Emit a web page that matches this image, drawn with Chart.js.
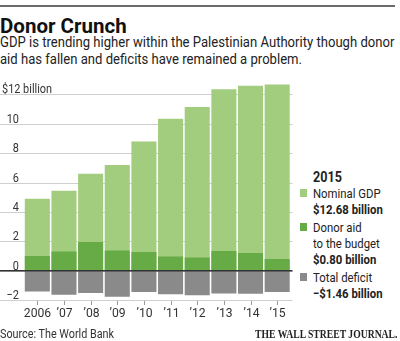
<!DOCTYPE html>
<html>
<head>
<meta charset="utf-8">
<script src="https://cdn.jsdelivr.net/npm/chart.js@4"></script>
<style>
  html, body { margin: 0; padding: 0; background: #fff; }
  body { width: 400px; height: 341px; position: relative; overflow: hidden;
         font-family: "Roboto", "Liberation Sans", sans-serif; color: #222; }
  .rule { position: absolute; left: 0; top: 5px; width: 395px; height: 2px; background: #6b6b6b; }
  .narrow { transform-origin: 0 0; white-space: nowrap; }
  h1 { position: absolute; left: 0; top: 14px; margin: 0; font-size: 20.5px; font-weight: bold; color: #111; white-space: nowrap; }
  .sub { position: absolute; left: 0; top: 34px; margin: 0; font-size: 14px; line-height: 16.5px; color: #222; transform: scaleX(0.935); }
  #wrap { position: absolute; left: 0; top: 0; width: 300px; height: 341px; }
  .legend { position: absolute; left: 300px; top: 169px; width: 120px; font-size: 13.5px; line-height: 16px; color: #222; }
  .legend .yr { font-weight: bold; font-size: 15px; margin-left: 13px; transform: scaleX(0.84); }
  .legend .item { position: relative; padding-left: 13px; margin-bottom: 2px; }
  .legend .txt { transform: scaleX(0.84); }
  .legend .sw { position: absolute; left: 0; top: 4px; width: 7px; height: 8px; }
  .src { position: absolute; left: 0; top: 327px; font-size: 12px; color: #333; transform: scaleX(0.9); }
  .wsj { position: absolute; left: 255px; top: 328px; font-family: "Liberation Serif", "DejaVu Serif", serif;
         font-weight: bold; font-size: 11.5px; color: #222; transform: scaleX(0.84); }
</style>
</head>
<body>
<div class="rule"></div>
<h1>Donor Crunch</h1>
<p class="sub narrow">GDP is trending higher within the Palestinian Authority though donor<br>aid has fallen and deficits have remained a problem.</p>
<div id="wrap"><canvas id="c"></canvas></div>
<div class="legend">
  <div class="yr narrow">2015</div>
  <div class="item"><span class="sw" style="background:#a2cc7e"></span><div class="txt narrow">Nominal GDP<br><b>$12.68 billion</b></div></div>
  <div class="item"><span class="sw" style="background:#67ab46"></span><div class="txt narrow">Donor aid<br>to the budget<br><b>$0.80 billion</b></div></div>
  <div class="item"><span class="sw" style="background:#8a8a8a"></span><div class="txt narrow">Total deficit<br><b>−$1.46 billion</b></div></div>
</div>
<div class="src narrow">Source: The World Bank</div>
<div class="wsj narrow">THE WALL STREET JOURNAL.</div>
<script>
// values in $ billion
const years = ['2006', '’07', '’08', '’09', '’10', '’11', '’12', '’13', '’14', '’15'];
const nominalGdp = [4.9, 5.45, 6.6, 7.2, 8.8, 10.35, 11.15, 12.35, 12.6, 12.68];
const donorAid = [1.0, 1.3, 1.95, 1.38, 1.27, 0.97, 0.9, 1.33, 1.2, 0.80];
const totalDeficit = [-1.42, -1.65, -1.52, -1.78, -1.45, -1.6, -1.68, -1.55, -1.58, -1.46];
const yTicks = [12, 10, 8, 6, 4, 2, 0, -2];
const yTickLabels = ['$12 billion', '10', '8', '6', '4', '2', '0', '−2'];

const FONT = '"Roboto", "Liberation Sans", sans-serif';

// draw text squeezed horizontally, the WSJ font is a narrow one
function narrowText(ctx, text, x, y, align, sx) {
    ctx.save();
    ctx.translate(x, y);
    ctx.scale(sx, 1);
    ctx.textAlign = align;
    ctx.fillText(text, 0, 0);
    ctx.restore();
}

// WSJ style axes: gridlines run full width, labels sit on top of the lines
const wsjAxes = {
    id: 'wsjAxes',
    beforeDatasetsDraw: function (chart) {
        const ctx = chart.ctx, y = chart.scales.y, x = chart.scales.x;
        const right = chart.chartArea.right + 2;
        ctx.save();
        ctx.font = '13px ' + FONT;
        ctx.fillStyle = '#333';
        ctx.textBaseline = 'alphabetic';
        yTicks.forEach(function (v, i) {
            const py = Math.round(y.getPixelForValue(v)) + 0.5;
            ctx.strokeStyle = '#cfcfcf';
            ctx.lineWidth = 1;
            ctx.beginPath();
            ctx.moveTo(0, py);
            ctx.lineTo(right, py);
            ctx.stroke();
            if (i === 0) narrowText(ctx, yTickLabels[i], 2, py - 2, 'left', 0.84);
            else narrowText(ctx, yTickLabels[i], 19, py - 2, 'right', 0.84);
        });
        // x tick marks and labels
        const base = Math.round(y.getPixelForValue(-2));
        ctx.font = '13.5px ' + FONT;
        ctx.textBaseline = 'middle';
        years.forEach(function (lab, i) {
            const px = Math.round(x.getPixelForValue(i)) + 0.5;
            ctx.strokeStyle = '#999';
            ctx.beginPath();
            ctx.moveTo(px, base + 1);
            ctx.lineTo(px, base + 5);
            ctx.stroke();
            narrowText(ctx, lab, px, base + 14, 'center', 0.9);
        });
        ctx.restore();
    },
    afterDatasetsDraw: function (chart) {
        const ctx = chart.ctx, y = chart.scales.y;
        const py = y.getPixelForValue(0);
        ctx.save();
        ctx.strokeStyle = '#333';
        ctx.lineWidth = 1.5;
        ctx.beginPath();
        ctx.moveTo(0, py);
        ctx.lineTo(chart.chartArea.right + 2, py);
        ctx.stroke();
        ctx.restore();
    }
};

new Chart(document.getElementById('c'), {
    type: 'bar',
    data: {
        labels: years,
        datasets: [
            { label: 'Donor aid to the budget', data: donorAid, backgroundColor: '#67ab46' },
            { label: 'Nominal GDP', data: nominalGdp, backgroundColor: '#a2cc7e' },
            { label: 'Total deficit', data: totalDeficit, backgroundColor: '#8a8a8a' }
        ]
    },
    options: {
        responsive: true,
        maintainAspectRatio: false,
        animation: false,
        datasets: { bar: { grouped: false, barPercentage: 0.94, categoryPercentage: 1, borderWidth: 0 } },
        layout: { padding: { left: 24, right: 9.5, top: 79.8, bottom: 41 } },
        plugins: { legend: { display: false }, tooltip: { enabled: false } },
        scales: {
            x: { display: false },
            y: { display: false, min: -2, max: 13 }
        }
    },
    plugins: [wsjAxes]
});
</script>
</body>
</html>
